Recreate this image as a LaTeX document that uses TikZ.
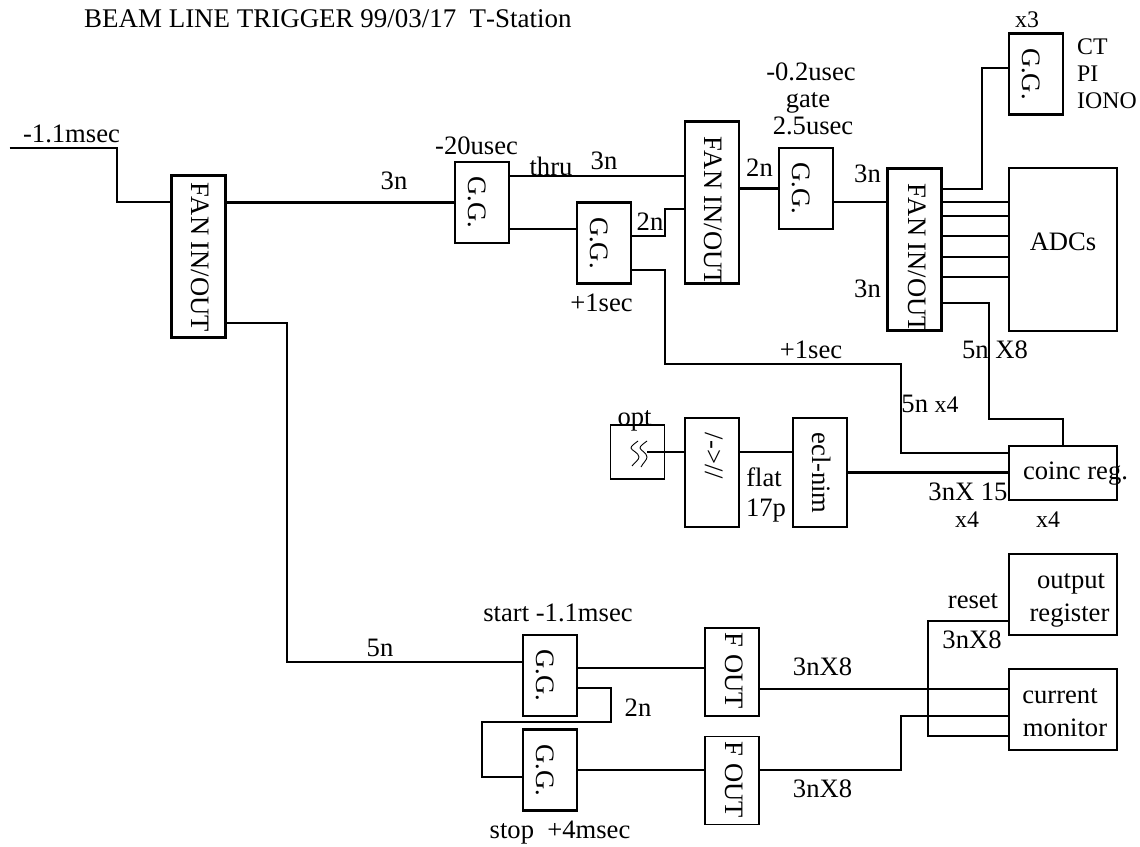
\documentclass[tikz,border=0pt]{standalone}
\usepackage{fontspec}
\setmainfont[Kerning=Off]{Liberation Serif}
\usetikzlibrary{calc}
\newcommand{\smalltxt}{\fontsize{23.8}{26}\selectfont}
\tikzset{
  blk/.style={draw,line width=2.2pt,inner sep=0pt,outer sep=0pt,minimum width=54pt},
  thinblk/.style={draw,line width=1.1pt,inner sep=0pt,outer sep=0pt,minimum width=54pt},
  fanbox/.style={blk,minimum height=162pt},
  ggbox/.style={blk,minimum height=81pt},
  tallbox/.style={blk,minimum height=109pt},
  regbox/.style={blk,minimum width=108pt,minimum height=81pt},
  wire/.style={line width=2.2pt},
  lbl/.style={anchor=base,inner sep=0pt},
  lblw/.style={anchor=base west,inner sep=0pt},
  vlbl/.style={rotate=-90,anchor=base,inner sep=0pt}
}
\begin{document}
\begin{tikzpicture}[x=1pt,y=-1pt,font=\fontsize{26.6}{30}\selectfont]
\useasboundingbox (0,0) rectangle (1140,846);
\node[fanbox] (fanA) at (198.5,256.5) {};
\node[fanbox] (fanB) at (712,202.5) {};
\node[fanbox] (fanC) at (914.5,249.5) {};
\node[ggbox] (ggA) at (482,202.5) {};
\node[ggbox] (ggB) at (604,243) {};
\node[ggbox] (ggC) at (806,188.5) {};
\node[ggbox] (ggD) at (1036,74) {};
\node[ggbox] (ggStart) at (550,675.5) {};
\node[ggbox] (ggStop) at (550,770) {};
\node[thinblk,minimum height=88pt] (foutA) at (732,672) {};
\node[thinblk,minimum height=88pt] (foutB) at (732,780.5) {};
\node[thinblk,minimum height=54pt] (optBox) at (637.5,452) {};
\node[tallbox] (convBox) at (712,472.5) {};
\node[tallbox] (eclBox) at (820,472.5) {};
\node[blk,minimum width=108pt,minimum height=163pt] (adcBox) at (1063,249.5) {};
\node[blk,minimum width=108pt,minimum height=54pt] (coincBox) at (1063,473) {};
\node[regbox] (outReg) at (1063,594.5) {};
\node[regbox] (curMon) at (1063,709.5) {};
\coordinate (inEnd) at (9.5,148);
\coordinate (optEnd) at (647,452);
\draw[wire] (inEnd) -| (117,202) -- (fanA.west |- 0,202);
\draw[wire] (fanA.east |- ggA.west) -- (ggA.west);
\draw[wire] (fanA.east |- 0,323) -| (287,662) -- (ggStart.west |- 0,662);
\draw[wire] (ggA.east |- 0,176) -- (fanB.west |- 0,176);
\draw[wire] (ggA.east |- 0,229) -- (ggB.west |- 0,229);
\draw[wire] (ggB.east |- 0,236) -| (665,209) -- (fanB.west |- 0,209);
\draw[wire] (ggB.east |- 0,270) -| (665,364) -| (901,453) -- (coincBox.west |- 0,453);
\draw[wire] (fanB.east |- ggC.west) -- (ggC.west);
\draw[wire] (ggC.east |- 0,202) -- (fanC.west |- 0,202);
\draw[wire] (fanC.east |- 0,189) -| (982,68) -- (ggD.west |- 0,68);
\draw[wire] (fanC.east |- 0,202) -- (adcBox.west |- 0,202);
\draw[wire] (fanC.east |- 0,216) -- (adcBox.west |- 0,216);
\draw[wire] (fanC.east |- 0,236) -- (adcBox.west |- 0,236);
\draw[wire] (fanC.east |- 0,257) -- (adcBox.west |- 0,257);
\draw[wire] (fanC.east |- 0,277) -- (adcBox.west |- 0,277);
\draw[wire] (fanC.east |- 0,303) -| (989,419) -| (coincBox.north);
\draw[wire] (optEnd) -- (convBox.west |- optEnd);
\draw[wire] (convBox.east |- optEnd) -- (eclBox.west |- optEnd);
\draw[wire] (eclBox.east) -- (coincBox.west |- eclBox.east);
\draw[wire] (ggStart.east |- 0,668) -- (foutA.west |- 0,668);
\draw[wire] (ggStart.east |- 0,688) -| (611,722) -| (482,777) -- (ggStop.west |- 0,777);
\draw[wire] (ggStop.east) -- (foutB.west |- ggStop.east);
\draw[wire] (foutA.east |- 0,689) -- (curMon.west |- 0,689);
\draw[wire] (foutB.east |- 0,770) -| (901,716) -- (curMon.west |- 0,716);
\draw[wire] (outReg.west |- 0,621) -| (928,736) -- (curMon.west |- 0,736);
\draw[line width=0.9pt] (638,441) .. controls (634,444) and (631,446) .. (631,448) .. controls (631,450) and (639,453) .. (639,457) .. controls (639,460) and (634,463) .. (632,466);
\draw[line width=0.9pt] (647,441) .. controls (643,444) and (640,446) .. (640,448) .. controls (640,450) and (647,453) .. (647,457) .. controls (647,460) and (643,463) .. (641,467);
\node[lblw,font=\fontsize{26.95}{30}\selectfont] (titleTxt) at (84,27) {BEAM LINE TRIGGER 99/03/17\ \ T-Station};
\node[lbl] (inTxt) at (71.5,142) {-1.1msec};
\node[lbl] (fanOutTxt) at (394,189) {3n};
\node[lbl] (ggATxt) at (476.5,154) {-20usec};
\node[lbl] (thruTxt) at (551,175) {thru};
\node[lbl] (thruLenTxt) at (604,169) {3n};
\node[lbl] (ggBLenTxt) at (650,230) {2n};
\node[lbl] (ggBTxt) at (601.5,311) {+1sec};
\node[lbl] (ggCLenTxt) at (759.5,176) {2n};
\node[lbl] (delayTxt) at (811,80) {-0.2usec};
\node[lbl] (gateTxt) at (808,107) {gate};
\node[lbl] (widthTxt) at (813,134) {2.5usec};
\node[lbl] (fanCInTxt) at (867.5,182) {3n};
\node[lbl] (fanCLowTxt) at (867.5,297) {3n};
\node[lbl] (ggDTxt) at (1027,27) {\smalltxt x3};
\node[lblw] (ctTxt) at (1077,54) {\smalltxt CT};
\node[lblw] (piTxt) at (1077,81) {\smalltxt PI};
\node[lblw] (ionoTxt) at (1077,108) {\smalltxt IONO};
\node[lbl] (adcTxt) at (1063,250) {ADCs};
\node[lbl] (secTxt) at (811,358) {+1sec};
\node[lbl] (fiveFourTxt) at (930,412) {5n {\smalltxt x4}};
\node[lbl] (fiveEightTxt) at (995,358) {5n X8};
\node[lbl] (threeTxt) at (968,500) {3nX 15};
\node[lbl] (xLeftTxt) at (967,527) {\smalltxt x4};
\node[lbl] (xRightTxt) at (1048,527) {\smalltxt x4};
\node[lbl] (coincTxt) at (1075.5,479) {coinc reg.};
\node[lbl] (optTxt) at (634.5,425) {opt};
\node[lbl] (flatTxt) at (764,486) {flat};
\node[lbl] (flatLenTxt) at (766,516) {17p};
\node[lbl] (startTxt) at (558,621) {start -1.1msec};
\node[lbl] (loopTxt) at (638,716) {2n};
\node[lbl] (stopTxt) at (560,838) {stop\ \ +4msec};
\node[lbl] (longTxt) at (380,656) {5n};
\node[lbl] (foutATxt) at (822.5,675) {3nX8};
\node[lbl] (foutBTxt) at (822.5,797) {3nX8};
\node[lbl] (resetTxt) at (973,608) {reset};
\node[lbl] (resetLenTxt) at (972,648) {3nX8};
\node[lbl] (outputTxt) at (1071,588) {output};
\node[lbl] (registerTxt) at (1069.5,621) {register};
\node[lbl] (currentTxt) at (1060,703) {current};
\node[lbl] (monitorTxt) at (1065,736) {monitor};
\node[vlbl] (fanATxt) at (191.5,257) {FAN IN/OUT};
\node[vlbl] (fanBTxt) at (704,211) {FAN IN/OUT};
\node[vlbl] (fanCTxt) at (908,258) {FAN IN/OUT};
\node[vlbl] (ggALbl) at (468,202.5) {G.G.};
\node[vlbl] (ggBLbl) at (590,243) {G.G.};
\node[vlbl] (ggCLbl) at (792,188.5) {G.G.};
\node[vlbl] (ggDLbl) at (1022,74) {G.G.};
\node[vlbl] (ggStartLbl) at (536,675) {G.G.};
\node[vlbl] (ggStopLbl) at (536,770) {G.G.};
\node[vlbl] (foutALbl) at (725,671) {F OUT};
\node[vlbl] (foutBLbl) at (725,780) {F OUT};
\node[vlbl] (convLbl) at (705,456) {/->//};
\node[vlbl] (eclLbl) at (812,473) {ecl-nim};
\end{tikzpicture}
\end{document}
